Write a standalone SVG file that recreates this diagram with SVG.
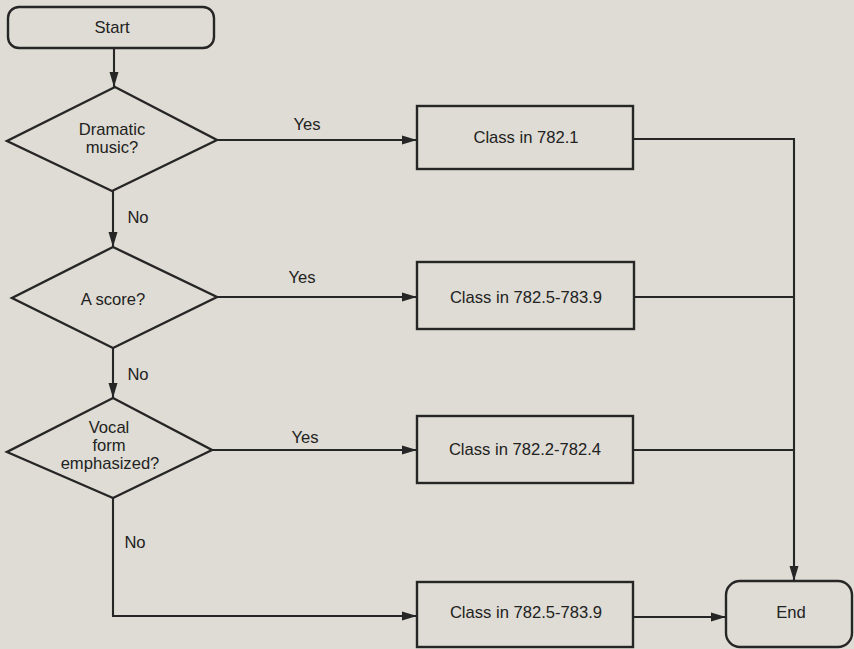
<svg xmlns="http://www.w3.org/2000/svg" width="854" height="649" viewBox="0 0 854 649">
<defs>
<style>
.s{fill:none;stroke:#262626;stroke-width:2.4;stroke-linejoin:miter}
.c{fill:none;stroke:#262626;stroke-width:2.1}
text{font-family:"Liberation Sans",Arial,sans-serif;font-size:16.6px;fill:#222;text-anchor:middle;dominant-baseline:central}
</style>
<marker id="av" viewBox="0 0 10 10" refX="10" refY="5" markerWidth="15" markerHeight="15" markerUnits="userSpaceOnUse" orient="auto">
<path d="M0,2 L10,5 L0,8 Z" fill="#262626"/>
</marker>
</defs>
<rect width="854" height="649" fill="#dedcd4"/>
<g id="connectors">
<path class="c" d="M114,48 V87" marker-end="url(#av)"/>
<path class="c" d="M217,140 H417" marker-end="url(#av)"/>
<path class="c" d="M113,191 V247" marker-end="url(#av)"/>
<path class="c" d="M217,297 H417" marker-end="url(#av)"/>
<path class="c" d="M113,348 V398" marker-end="url(#av)"/>
<path class="c" d="M212,450 H417" marker-end="url(#av)"/>
<path class="c" d="M113,498 V616 H417" marker-end="url(#av)"/>
<path class="c" d="M633,139 H794 V581" marker-end="url(#av)"/>
<path class="c" d="M634,297 H794"/>
<path class="c" d="M634,450 H794"/>
<path class="c" d="M634,617 H726" marker-end="url(#av)"/>
<text x="307" y="124">Yes</text>
<text x="302" y="277">Yes</text>
<text x="305" y="437">Yes</text>
<text x="138" y="217">No</text>
<text x="138" y="374">No</text>
<text x="135" y="542">No</text>
</g>
<g id="start">
<rect class="s" x="8" y="7" width="206" height="41" rx="11"/>
<text x="112" y="27">Start</text>
</g>
<g id="q1">
<polygon class="s" points="115,87 217,140 112,191 7,141"/>
<text x="112" y="129">Dramatic</text>
<text x="112" y="147">music?</text>
</g>
<g id="q2">
<polygon class="s" points="113,247 217,297 113,348 12,298"/>
<text x="113" y="299">A score?</text>
</g>
<g id="q3">
<polygon class="s" points="113,398 212,450 113,498 7,452"/>
<text x="109" y="427">Vocal</text>
<text x="109" y="445">form</text>
<text x="110" y="463">emphasized?</text>
</g>
<g id="b1">
<rect class="s" x="417" y="106" width="216" height="63"/>
<text x="526" y="137">Class in 782.1</text>
</g>
<g id="b2">
<rect class="s" x="417" y="262" width="217" height="67"/>
<text x="526" y="297">Class in 782.5-783.9</text>
</g>
<g id="b3">
<rect class="s" x="417" y="416" width="216" height="67"/>
<text x="525" y="449">Class in 782.2-782.4</text>
</g>
<g id="b4">
<rect class="s" x="417" y="582" width="216" height="65"/>
<text x="526" y="612">Class in 782.5-783.9</text>
</g>
<g id="end">
<rect class="s" x="726" y="581" width="126" height="66" rx="14"/>
<text x="791" y="612">End</text>
</g>
</svg>
